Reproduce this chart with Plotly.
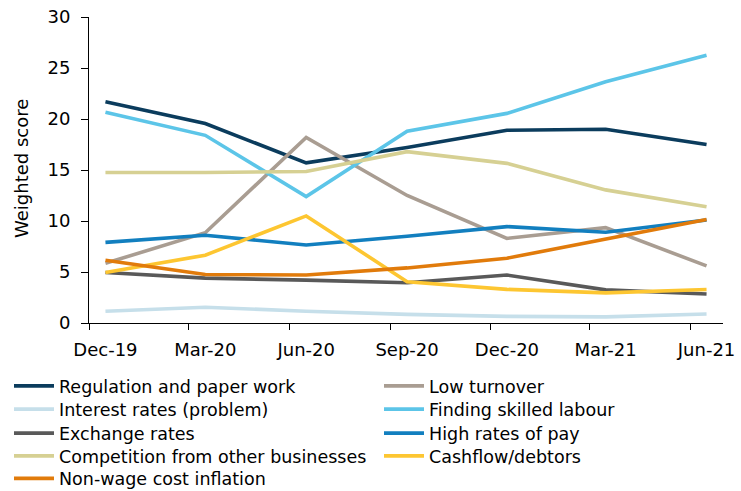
import plotly.graph_objects as go

dates = ["2019-12-16", "2020-03-16", "2020-06-16", "2020-09-16", "2020-12-16", "2021-03-16", "2021-06-16"]
tick_labels = ["Dec-19", "Mar-20", "Jun-20", "Sep-20", "Dec-20", "Mar-21", "Jun-21"]

regulation = [21.7, 19.55, 15.7, 17.2, 18.9, 19.0, 17.5]
interest = [1.15, 1.55, 1.15, 0.85, 0.65, 0.6, 0.88]
exchange = [4.95, 4.4, 4.2, 3.95, 4.7, 3.25, 2.85]
competition = [14.75, 14.75, 14.85, 16.8, 15.65, 13.05, 11.4]
nonwage = [6.15, 4.75, 4.7, 5.4, 6.35, 8.2, 10.15]
low_turnover = [5.85, 8.85, 18.2, 12.5, 8.3, 9.35, 5.6]
finding = [20.65, 18.4, 12.4, 18.8, 20.55, 23.65, 26.25]
high_pay = [7.9, 8.6, 7.65, 8.5, 9.45, 8.9, 10.1]
cashflow = [4.95, 6.65, 10.5, 4.05, 3.3, 2.95, 3.28]

# (name, values, colour, legend column, legend row)
series = [
    ("Regulation and paper work", regulation, "#0b3c5d", 0, 0),
    ("Low turnover", low_turnover, "#a99d92", 1, 0),
    ("Interest rates (problem)", interest, "#c6dfea", 0, 1),
    ("Finding skilled labour", finding, "#5cc5e8", 1, 1),
    ("Exchange rates", exchange, "#595959", 0, 2),
    ("High rates of pay", high_pay, "#127fbf", 1, 2),
    ("Competition from other businesses", competition, "#d6d093", 0, 3),
    ("Cashflow/debtors", cashflow, "#fdc631", 1, 3),
    ("Non-wage cost inflation", nonwage, "#e17b0b", 0, 4),
]

W, H = 741, 491
font = dict(family="DejaVu Sans", size=18, color="#000000")
col_x = [9, 379]
row_center = [387, 410.3, 434.3, 457, 479.5]

fig = go.Figure()
layout_legends = {}
for i, (name, vals, color, col, row) in enumerate(series):
    key = "legend" if i == 0 else f"legend{i + 1}"
    fig.add_trace(go.Scatter(x=dates, y=vals, name=name, mode="lines",
                             line=dict(color=color, width=3.6), legend=key))
    top = row_center[row] - 19
    layout_legends[key] = dict(
        font=dict(family="DejaVu Sans", size=17.5, color="#000000"),
        bgcolor="rgba(0,0,0,0)", orientation="v",
        xref="container", yref="container", xanchor="left", yanchor="top",
        x=col_x[col] / W, y=1 - top / H, itemwidth=40,
    )

fig.update_layout(
    width=W, height=H,
    paper_bgcolor="white", plot_bgcolor="white",
    font=font,
    margin=dict(l=89, r=18, t=16.7, b=168.3, autoexpand=False),
    showlegend=True,
    xaxis=dict(
        type="date", automargin=False,
        range=["2019-12-01", "2021-07-01"],
        tickvals=dates, ticktext=tick_labels,
        ticks="outside", ticklen=0, tickcolor="#000000",
        showline=True, linecolor="#000000", linewidth=1,
        showgrid=False, zeroline=False,
        minor=dict(ticks="outside", ticklen=6, tickcolor="#000000", tick0="2019-12-01",
                   dtick="M3", showgrid=False),
        tickfont=font,
        ticklabelstandoff=10,
        ticklabeloverflow="allow",
    ),
    yaxis=dict(
        automargin=False,
        range=[0, 30], dtick=5, tick0=0,
        ticks="outside", ticklen=7, tickcolor="#000000",
        showline=True, linecolor="#000000", linewidth=1,
        showgrid=False, zeroline=False,
        tickfont=font,
        ticklabelstandoff=7,
        ticklabeloverflow="allow",
    ),
    annotations=[dict(
        text="Weighted score", xref="paper", yref="paper", x=-0.1065, y=0.505,
        xanchor="center", yanchor="middle", textangle=-90, showarrow=False,
        font=font,
    )],
    **layout_legends,
)

fig.write_html("out.html", config={"displayModeBar": False},
               post_script="document.body.style.margin='0px';")
